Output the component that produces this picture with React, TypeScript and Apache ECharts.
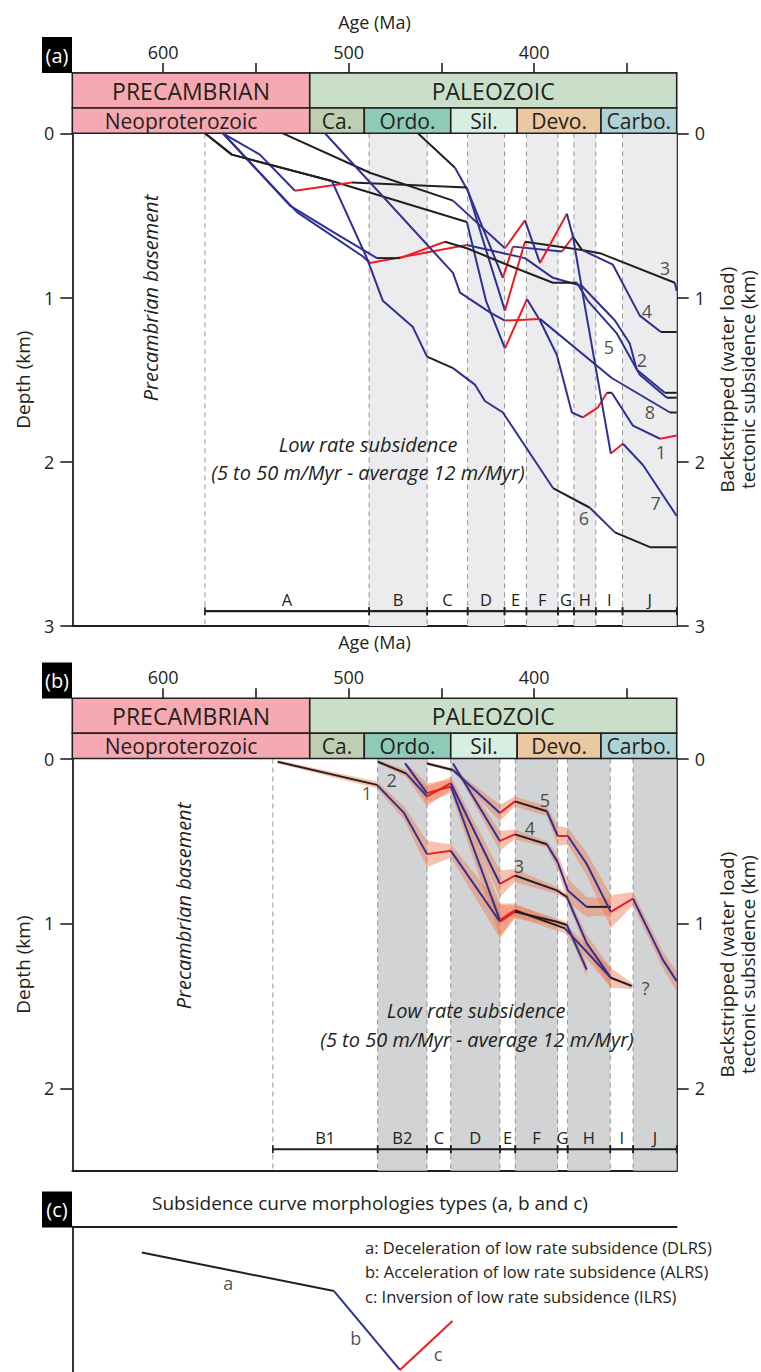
import React, { useEffect, useRef } from "react";
import * as echarts from "echarts";

// ---------------- axes ----------------
const AGE_OLD = 649;
const AGE_YOUNG = 323.2;
const ageTickValues = [600, 550, 500, 450, 400, 350];
const ageLabelValues = [600, 500, 400];
const depthTicksA = [0, 1, 2, 3];
const depthTicksB = [0, 1, 2];

// ---------------- chronostratigraphy ----------------
const eraNames = ["PRECAMBRIAN", "PALEOZOIC"];
const eraStart = [649, 521];
const eraEnd = [521, 323.2];
const periodNames = ["Neoproterozoic", "Ca.", "Ordo.", "Sil.", "Devo.", "Carbo."];
const periodStart = [649, 521, 491.6, 445, 409.2, 364];
const periodEnd = [521, 491.6, 445, 409.2, 364, 323.2];

// ---------------- subsidence intervals ----------------
const intervalNamesA = ["A", "B", "C", "D", "E", "F", "G", "H", "I", "J"];
const intervalBoundsA = [577.5, 489, 457.7, 435.9, 416, 404.2, 387.2, 378.6, 366.8, 352.4, 323.2];
const shadedNamesA = ["B", "D", "F", "H", "J"];
const intervalNamesB = ["B1", "B2", "C", "D", "E", "F", "G", "H", "I", "J"];
const intervalBoundsB = [540.9, 484.4, 457.8, 445, 418.5, 410.2, 387.4, 382, 359, 346.7, 323.2];
const shadedNamesB = ["B2", "D", "F", "H", "J"];
const scaleBarDepthA = 2.91;
const scaleBarDepthB = 2.37;

// ---------------- panel (a) curves: age (Ma), depth (km), segment colour ----------------
const curveA1Age = [577.5, 563.0, 509.1, 436.3, 426.0, 415.8, 403.9, 396.9, 387.8, 379.7, 373.8, 365.7, 360.8, 358.2, 346.8, 332.2, 323.2];
const curveA1Depth = [0, 0.13, 0.29, 0.54, 1.02, 1.31, 1.01, 1.14, 1.35, 1.70, 1.73, 1.67, 1.58, 1.58, 1.78, 1.86, 1.84];
const curveA1Seg = "kkkbbrbbbbrrkbbr";

const curveA2Age = [567.8, 527.9, 492.3, 488.6, 436.3, 405.0, 389.9, 374.3, 356.5, 348.5, 344.7, 329.6, 323.2];
const curveA2Depth = [0, 0.48, 0.75, 0.79, 0.68, 0.76, 0.88, 0.93, 1.14, 1.28, 1.44, 1.58, 1.58];
const curveA2Seg = "bbbrbbbbbbbk";

const curveA3Age = [462.7, 442.7, 435.8, 416.9, 411.5, 385.1, 379.1, 374.3, 364.6, 324.2, 323.2];
const curveA3Depth = [0, 0.21, 0.35, 0.88, 0.69, 0.72, 0.63, 0.71, 0.73, 0.91, 0.96];
const curveA3Seg = "kbbrbrkkkb";

const curveA4Age = [567.8, 547.9, 529.0, 498.3, 436.3, 426.0, 415.8, 405.0, 374.3, 357.6, 343.1, 331.7, 323.2];
const curveA4Depth = [0, 0.13, 0.35, 0.30, 0.33, 0.71, 1.08, 0.66, 0.71, 0.80, 1.11, 1.21, 1.21];
const curveA4Seg = "bbrkbbrkbbbk";

const curveA5Age = [567.8, 531.7, 508.5, 484.8, 472.4, 448.1, 436.3, 416.9, 389.9, 377.0, 371.1, 355.4, 343.1, 328.5, 323.2];
const curveA5Depth = [0, 0.44, 0.60, 0.76, 0.76, 0.66, 0.70, 0.79, 0.91, 0.91, 1.02, 1.22, 1.47, 1.61, 1.61];
const curveA5Seg = "bbbkrkkkkbbbbk";

const curveA6Age = [577.5, 563.0, 509.1, 490.2, 481.6, 465.4, 457.8, 443.8, 432.0, 426.6, 416.9, 389.9, 370.0, 356.5, 337.6, 323.2];
const curveA6Depth = [0, 0.13, 0.29, 0.76, 1.02, 1.18, 1.36, 1.43, 1.53, 1.63, 1.70, 2.16, 2.28, 2.43, 2.52, 2.52];
const curveA6Seg = "kkbbbbkbbbbkbkk";

const curveA7Age = [535.5, 488.6, 443.8, 415.8, 405.0, 396.9, 382.4, 379.1, 373.2, 358.7, 352.2, 341.4, 323.2];
const curveA7Depth = [0, 0.24, 0.41, 0.70, 0.53, 0.79, 0.49, 0.63, 1.02, 1.95, 1.89, 2.02, 2.33];
const curveA7Seg = "kkbrbrbbbrbb";

const curveA8Age = [512.8, 443.8, 440.0, 423.9, 415.8, 396.9, 358.2, 326.8, 323.2];
const curveA8Depth = [0, 0.85, 0.97, 1.09, 1.14, 1.13, 1.49, 1.70, 1.70];
const curveA8Seg = "bbbbrbbk";

const curveLabelTextA = ["3", "4", "5", "2", "8", "1", "7", "6"];
const curveLabelAgeA = [329.6, 339.3, 359.8, 342.0, 337.6, 331.7, 334.5, 373.2];
const curveLabelDepthA = [0.82, 1.08, 1.30, 1.38, 1.70, 1.94, 2.25, 2.34];

// ---------------- panel (b) curves with uncertainty half-widths (km) ----------------
const curveB1Age = [538.3, 484.8, 470.2, 457.8, 444.9, 418.5, 410.4, 387.8, 382.4, 371.7];
const curveB1Depth = [0.02, 0.16, 0.33, 0.58, 0.56, 0.99, 0.93, 0.99, 1.01, 1.28];
const curveB1Seg = "kbbrbrkkb";
const curveB1Err = [0.01, 0.02, 0.04, 0.08, 0.04, 0.10, 0.04, 0.02, 0.02, 0.04];

const curveB2Age = [484.2, 469.1, 457.8, 444.9, 418.5, 410.4, 387.8, 382.4, 371.7, 358.7, 347.4];
const curveB2Depth = [0.02, 0.09, 0.23, 0.15, 0.76, 0.71, 0.80, 0.84, 1.12, 1.33, 1.38];
const curveB2Seg = "kbrbrkkbbk";
const curveB2Err = [0.01, 0.02, 0.06, 0.04, 0.08, 0.04, 0.02, 0.02, 0.05, 0.06, 0.02];

const curveB3Age = [469.6, 457.8, 444.9, 418.5, 410.4, 383.5, 358.7];
const curveB3Depth = [0.03, 0.21, 0.17, 0.98, 0.92, 1.03, 1.33];
const curveB3Seg = "brbrkb";
const curveB3Err = [0.01, 0.06, 0.04, 0.10, 0.04, 0.03, 0.06];

const curveB4Age = [443.8, 418.5, 410.4, 393.2, 387.3, 381.9, 371.7, 358.7];
const curveB4Depth = [0.03, 0.50, 0.46, 0.52, 0.63, 0.80, 0.90, 0.90];
const curveB4Seg = "brkbbbk";
const curveB4Err = [0.01, 0.06, 0.03, 0.02, 0.05, 0.07, 0.06, 0.05];

const curveB5Age = [457.8, 443.8, 418.5, 410.4, 393.2, 387.3, 381.9, 371.7, 358.7, 346.8, 330.7, 323.2];
const curveB5Depth = [0.03, 0.07, 0.33, 0.26, 0.32, 0.47, 0.47, 0.64, 0.93, 0.85, 1.22, 1.35];
const curveB5Seg = "kbrkbrbbrbb";
const curveB5Err = [0.01, 0.01, 0.05, 0.03, 0.03, 0.06, 0.05, 0.07, 0.10, 0.04, 0.05, 0.06];

const curveLabelTextB = ["1", "2", "5", "4", "3", "?"];
const curveLabelAgeB = [490.2, 476.9, 394.3, 402.3, 408.3, 339.9];
const curveLabelDepthB = [0.21, 0.13, 0.25, 0.42, 0.65, 1.39];

// ---------------- panel (c) schematic (0-100 frame) ----------------
const schematicX = [11.5, 43.3, 54.2, 62.9];
const schematicY = [17.7, 44.1, 98.1, 64.6];
const schematicSeg = "kbr";
const schematicLabelText = ["a", "b", "c"];
const schematicLabelX = [25.8, 46.9, 60.5];
const schematicLabelY = [38.6, 75.9, 86.9];
const schematicLegend = [
  "a: Deceleration of low rate subsidence (DLRS)",
  "b: Acceleration of low rate subsidence (ALRS)",
  "c: Inversion of low rate subsidence (ILRS)",
];

// ---------------- styles ----------------
const FONT = "Open Sans";
const INK = "#231f20";
const SEG_COLOR: Record<string, string> = { k: "#231f20", b: "#2e3192", r: "#ed1c24" };
const eraColors = ["#f6a9b1", "#cadfca"];
const periodColors = ["#f6a9b1", "#bfceb0", "#8fcab9", "#d7eee2", "#eac8a0", "#afd2d4"];
const periodTextShift = [-10, 0, 0, 0, 0, 0];
const SHADE_A = "#ececee";
const SHADE_B = "#d1d3d4";
const BAND_FILL = "rgba(239,120,80,0.45)";

const GL = 72.3;
const GW = 604.4;

function runs(age: number[], depth: number[], seg: string) {
  const out: { color: string; pts: number[][] }[] = [];
  let start = 0;
  for (let i = 1; i <= seg.length; i++) {
    if (i === seg.length || seg[i] !== seg[start]) {
      const pts: number[][] = [];
      for (let j = start; j <= i; j++) pts.push([age[j], depth[j]]);
      out.push({ color: SEG_COLOR[seg[start]], pts });
      start = i;
    }
  }
  return out;
}

function curveSeries(ax: number, curves: { age: number[]; depth: number[]; seg: string }[]) {
  const list: any[] = [];
  curves.forEach((c) => {
    runs(c.age, c.depth, c.seg).forEach((r) => {
      list.push({
        type: "line",
        xAxisIndex: ax,
        yAxisIndex: ax,
        data: r.pts,
        showSymbol: false,
        symbol: "none",
        silent: true,
        z: 4,
        lineStyle: { color: r.color, width: 2 },
      });
    });
  });
  return list;
}

function headerSeries(ax: number, names: string[], starts: number[], ends: number[], colors: string[], fontSize: number, shift?: number[]) {
  return {
    type: "custom",
    xAxisIndex: ax,
    yAxisIndex: ax,
    silent: true,
    z: 3,
    data: names.map((_, i) => [starts[i], ends[i], 0.5, i]),
    encode: { x: [0, 1], y: 2 },
    renderItem: (params: any, api: any) => {
      const i = api.value(3);
      const p0 = api.coord([api.value(0), 0.5]);
      const p1 = api.coord([api.value(1), 0.5]);
      const cs = params.coordSys;
      return {
        type: "rect",
        shape: { x: Math.min(p0[0], p1[0]), y: cs.y, width: Math.abs(p1[0] - p0[0]), height: cs.height },
        style: { fill: colors[i], stroke: INK, lineWidth: 1.6 },
        textContent: { style: { text: names[i], fill: INK, fontSize, fontFamily: FONT } },
        textConfig: { position: "inside", offset: [shift ? shift[i] : 0, 0] },
      };
    },
  };
}

function shadeSeries(ax: number, names: string[], bounds: number[], shaded: string[], fill: string) {
  const data: number[][] = [];
  names.forEach((n, i) => {
    if (shaded.includes(n)) data.push([bounds[i], bounds[i + 1], 0]);
  });
  return {
    type: "custom",
    xAxisIndex: ax,
    yAxisIndex: ax,
    silent: true,
    z: 1,
    data,
    encode: { x: [0, 1], y: 2 },
    renderItem: (params: any, api: any) => {
      const p0 = api.coord([api.value(0), 0]);
      const p1 = api.coord([api.value(1), 0]);
      const cs = params.coordSys;
      return {
        type: "rect",
        shape: { x: Math.min(p0[0], p1[0]), y: cs.y, width: Math.abs(p1[0] - p0[0]), height: cs.height },
        style: { fill },
      };
    },
  };
}

function dashSeries(ax: number, bounds: number[]) {
  return {
    type: "custom",
    xAxisIndex: ax,
    yAxisIndex: ax,
    silent: true,
    z: 2,
    data: bounds.slice(0, bounds.length - 1).map((b) => [b, 0]),
    encode: { x: 0, y: 1 },
    renderItem: (params: any, api: any) => {
      const p = api.coord([api.value(0), 0]);
      const cs = params.coordSys;
      return {
        type: "line",
        shape: { x1: p[0], y1: cs.y, x2: p[0], y2: cs.y + cs.height },
        style: { stroke: "#8a8a8a", lineWidth: 0.9, lineDash: [5, 4] },
      };
    },
  };
}

function scaleBarSeries(ax: number, names: string[], bounds: number[], depth: number) {
  return {
    type: "custom",
    xAxisIndex: ax,
    yAxisIndex: ax,
    silent: true,
    z: 5,
    data: names.map((_, i) => [bounds[i], bounds[i + 1], depth]),
    encode: { x: [0, 1], y: 2 },
    renderItem: (params: any, api: any) => {
      const d = api.value(2);
      const p0 = api.coord([api.value(0), d]);
      const p1 = api.coord([api.value(1), d]);
      const tick = (x: number, y: number) => ({
        type: "line",
        shape: { x1: x, y1: y - 4, x2: x, y2: y + 4 },
        style: { stroke: INK, lineWidth: 1.6 },
      });
      return {
        type: "group",
        children: [
          { type: "line", shape: { x1: p0[0], y1: p0[1], x2: p1[0], y2: p1[1] }, style: { stroke: INK, lineWidth: 2.2 } },
          tick(p0[0], p0[1]),
          tick(p1[0], p1[1]),
          {
            type: "text",
            x: (p0[0] + p1[0]) / 2,
            y: p0[1] - 12,
            style: { text: names[params.dataIndex], fill: INK, fontSize: 16.5, fontFamily: FONT, align: "center", verticalAlign: "middle" },
          },
        ],
      };
    },
  };
}

function bandSeries(ax: number, age: number[], depth: number[], err: number[]) {
  return {
    type: "custom",
    xAxisIndex: ax,
    yAxisIndex: ax,
    silent: true,
    z: 3,
    data: [[age[0], depth[0]]],
    encode: { x: 0, y: 1 },
    renderItem: (params: any, api: any) => {
      const pts: number[][] = [];
      for (let i = 0; i < age.length; i++) pts.push(api.coord([age[i], depth[i] - err[i]]));
      for (let i = age.length - 1; i >= 0; i--) pts.push(api.coord([age[i], depth[i] + err[i]]));
      return { type: "polygon", shape: { points: pts }, style: { fill: BAND_FILL } };
    },
  };
}

function labelSeries(ax: number, texts: string[], xs: number[], ys: number[], fontSize: number) {
  return {
    type: "scatter",
    xAxisIndex: ax,
    yAxisIndex: ax,
    silent: true,
    z: 6,
    symbolSize: 0,
    data: texts.map((t, i) => ({ name: t, value: [xs[i], ys[i]] })),
    label: { show: true, position: "inside", formatter: (p: any) => p.name, fontSize, color: INK, fontFamily: FONT },
  };
}

function hiddenX(gridIndex: number) {
  return {
    type: "value", gridIndex, min: AGE_YOUNG, max: AGE_OLD, inverse: true, show: false,
    splitLine: { show: false },
  };
}
function hiddenY(gridIndex: number) {
  return { type: "value", gridIndex, min: 0, max: 1, show: false, splitLine: { show: false } };
}

function topAgeAxis(gridIndex: number, withName: boolean) {
  return {
    type: "value", gridIndex, min: AGE_YOUNG, max: AGE_OLD, inverse: true, position: "top",
    axisLine: { show: true, onZero: false, lineStyle: { color: INK, width: 1.6 } },
    axisTick: { show: true, customValues: ageTickValues, length: 10, lineStyle: { color: INK, width: 1.6 } },
    axisLabel: { show: true, customValues: ageLabelValues, margin: 12, fontSize: 18, color: INK, fontFamily: FONT },
    splitLine: { show: false },
    name: withName ? "Age (Ma)" : "",
    nameLocation: "middle",
    nameGap: 42,
    nameTextStyle: { fontSize: 18, color: INK, fontFamily: FONT },
  };
}

function bottomAgeAxis(gridIndex: number, withName: boolean) {
  return {
    type: "value", gridIndex, min: AGE_YOUNG, max: AGE_OLD, inverse: true, position: "bottom",
    axisLine: { show: true, onZero: false, lineStyle: { color: INK, width: 1.8 } },
    axisTick: { show: false },
    axisLabel: { show: false },
    splitLine: { show: false },
    name: withName ? "Age (Ma)" : "",
    nameLocation: "middle",
    nameGap: 7,
    nameTextStyle: { fontSize: 18, color: INK, fontFamily: FONT, verticalAlign: "top" },
  };
}

function depthAxis(gridIndex: number, max: number, ticks: number[], position: string) {
  const left = position === "left";
  return {
    type: "value", gridIndex, min: 0, max, inverse: true, position,
    axisLine: { show: true, onZero: false, lineStyle: { color: INK, width: 1.8 } },
    axisTick: { show: true, customValues: ticks, length: 12, lineStyle: { color: INK, width: 1.6 } },
    axisLabel: { show: true, customValues: ticks, margin: 18, fontSize: 18, color: INK, fontFamily: FONT },
    splitLine: { show: false },
    name: left ? "Depth (km)" : "Backstripped (water load)\ntectonic subsidence (km)",
    nameLocation: "middle",
    nameGap: left ? 34 : 40,
    nameRotate: 90,
    nameTextStyle: { fontSize: 19, color: INK, fontFamily: FONT, lineHeight: 21 },
  };
}

function buildOption() {
  const grids = [
    { left: GL, width: GW, top: 73, height: 35 },
    { left: GL, width: GW, top: 108, height: 25.3 },
    { left: GL, width: GW, top: 133.3, height: 492.7 },
    { left: GL, width: GW, top: 698.3, height: 35 },
    { left: GL, width: GW, top: 733.3, height: 25.2 },
    { left: GL, width: GW, top: 758.5, height: 412.2 },
    { left: GL, width: GW, top: 1226.7, height: 146 },
  ].map((g) => ({ ...g, containLabel: false, outerBoundsMode: "none" }));

  const xAxis = [
    topAgeAxis(0, true),
    hiddenX(1),
    bottomAgeAxis(2, true),
    topAgeAxis(3, false),
    hiddenX(4),
    bottomAgeAxis(5, false),
    {
      type: "value", gridIndex: 6, min: 0, max: 100, position: "top",
      axisLine: { show: true, onZero: false, lineStyle: { color: INK, width: 1.8 } },
      axisTick: { show: false }, axisLabel: { show: false }, splitLine: { show: false },
    },
  ];
  const yAxis = [
    hiddenY(0),
    hiddenY(1),
    depthAxis(2, 3, depthTicksA, "left"),
    hiddenY(3),
    hiddenY(4),
    depthAxis(5, 2.5, depthTicksB, "left"),
    {
      type: "value", gridIndex: 6, min: 0, max: 100, inverse: true,
      axisLine: { show: true, onZero: false, lineStyle: { color: INK, width: 1.8 } },
      axisTick: { show: false }, axisLabel: { show: false }, splitLine: { show: false },
    },
    depthAxis(2, 3, depthTicksA, "right"),
    depthAxis(5, 2.5, depthTicksB, "right"),
  ];

  const curvesA = [
    { age: curveA1Age, depth: curveA1Depth, seg: curveA1Seg },
    { age: curveA2Age, depth: curveA2Depth, seg: curveA2Seg },
    { age: curveA3Age, depth: curveA3Depth, seg: curveA3Seg },
    { age: curveA4Age, depth: curveA4Depth, seg: curveA4Seg },
    { age: curveA5Age, depth: curveA5Depth, seg: curveA5Seg },
    { age: curveA6Age, depth: curveA6Depth, seg: curveA6Seg },
    { age: curveA7Age, depth: curveA7Depth, seg: curveA7Seg },
    { age: curveA8Age, depth: curveA8Depth, seg: curveA8Seg },
  ];
  const curvesB = [
    { age: curveB1Age, depth: curveB1Depth, seg: curveB1Seg, err: curveB1Err },
    { age: curveB2Age, depth: curveB2Depth, seg: curveB2Seg, err: curveB2Err },
    { age: curveB3Age, depth: curveB3Depth, seg: curveB3Seg, err: curveB3Err },
    { age: curveB4Age, depth: curveB4Depth, seg: curveB4Seg, err: curveB4Err },
    { age: curveB5Age, depth: curveB5Depth, seg: curveB5Seg, err: curveB5Err },
  ];

  const series: any[] = [
    headerSeries(0, eraNames, eraStart, eraEnd, eraColors, 23),
    headerSeries(1, periodNames, periodStart, periodEnd, periodColors, 21, periodTextShift),
    headerSeries(3, eraNames, eraStart, eraEnd, eraColors, 23),
    headerSeries(4, periodNames, periodStart, periodEnd, periodColors, 21, periodTextShift),
    shadeSeries(2, intervalNamesA, intervalBoundsA, shadedNamesA, SHADE_A),
    dashSeries(2, intervalBoundsA),
    scaleBarSeries(2, intervalNamesA, intervalBoundsA, scaleBarDepthA),
    shadeSeries(5, intervalNamesB, intervalBoundsB, shadedNamesB, SHADE_B),
    dashSeries(5, intervalBoundsB),
    scaleBarSeries(5, intervalNamesB, intervalBoundsB, scaleBarDepthB),
    ...curvesB.map((c) => bandSeries(5, c.age, c.depth, c.err)),
    ...curveSeries(2, curvesA),
    ...curveSeries(5, curvesB),
    ...curveSeries(6, [{ age: schematicX, depth: schematicY, seg: schematicSeg }]),
    labelSeries(2, curveLabelTextA, curveLabelAgeA, curveLabelDepthA, 18),
    labelSeries(5, curveLabelTextB, curveLabelAgeB, curveLabelDepthB, 18),
    labelSeries(6, schematicLabelText, schematicLabelX, schematicLabelY, 18),
  ];

  const txt = (text: string, x: number, y: number, size: number, extra: any = {}) => ({
    type: "text",
    x,
    y,
    silent: true,
    z: 10,
    rotation: extra.rotation || 0,
    style: {
      text,
      fill: extra.fill || INK,
      fontSize: size,
      fontFamily: FONT,
      fontStyle: extra.italic ? "italic" : "normal",
      align: extra.align || "center",
      verticalAlign: "middle",
    },
  });
  const tagBox = (label: string, y: number) => [
    { type: "rect", shape: { x: 42, y, width: 30, height: 36 }, style: { fill: "#000" }, z: 10, silent: true },
    txt(label, 57, y + 18, 20, { fill: "#fff" }),
  ];

  const graphic: any[] = [
    ...tagBox("(a)", 37),
    ...tagBox("(b)", 662.5),
    ...tagBox("(c)", 1191.5),
    txt("Precambrian basement", 150, 298, 20, { italic: true, rotation: Math.PI / 2 }),
    txt("Precambrian basement", 183, 906, 20, { italic: true, rotation: Math.PI / 2 }),
    txt("Low rate subsidence", 368, 444, 20, { italic: true }),
    txt("(5 to 50 m/Myr - average 12 m/Myr)", 368, 472, 20, { italic: true }),
    txt("Low rate subsidence", 476, 1010, 20, { italic: true }),
    txt("(5 to 50 m/Myr - average 12 m/Myr)", 477, 1039, 20, { italic: true }),
    txt("Subsidence curve morphologies types (a, b and c)", 370, 1203, 19),
    ...schematicLegend.map((t, i) => txt(t, 365, 1247 + i * 24.5, 16.5, { align: "left" })),
  ];

  return {
    animation: false,
    backgroundColor: "#ffffff",
    textStyle: { fontFamily: FONT },
    grid: grids,
    xAxis,
    yAxis,
    series,
    graphic,
  };
}

export default function App() {
  const ref = useRef<HTMLDivElement>(null);
  useEffect(() => {
    document.body.style.margin = "0";
    document.body.style.overflow = "hidden";
    const chart = echarts.init(ref.current as HTMLDivElement, undefined, { renderer: "svg" });
    chart.setOption(buildOption() as any);
    return () => chart.dispose();
  }, []);
  return <div ref={ref} style={{ width: 761, height: 1372 }} />;
}
